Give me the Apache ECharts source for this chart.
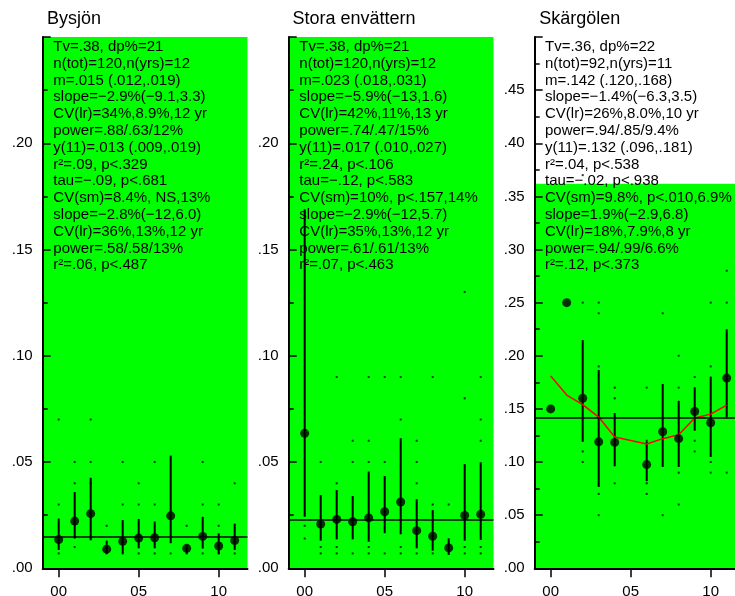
<!DOCTYPE html>
<html><head><meta charset="utf-8">
<script src="https://cdn.jsdelivr.net/npm/echarts@6/dist/echarts.min.js"></script>
<style>html,body{margin:0;padding:0;background:#fff}#c{width:735px;height:596px}</style>
</head><body><div id="c"></div>
<script>
// ---------- data ----------
const years = [0,1,2,3,4,5,6,7,8,9,10,11];
const xTickValues = [0,5,10];
const xTickLabels = ['00','05','10'];
const yTickLabels = ['.00','.05','.10','.15','.20','.25','.30','.35','.40','.45','.50'];

const titles = ['Bysjön','Stora envättern','Skärgölen'];
const yMax = [0.25, 0.25, 0.5];
const meanLevel = [0.015, 0.023, 0.142];

const stats1 = ['Tv=.38, dp%=21','n(tot)=120,n(yrs)=12','m=.015 (.012,.019)','slope=\u22122.9%(\u22129.1,3.3)','CV(lr)=34%,8.9%,12 yr','power=.88/.63/12%','y(11)=.013 (.009,.019)','r\u00b2=.09, p<.329','tau=\u2212.09, p<.681','CV(sm)=8.4%, NS,13%','slope=\u22122.8%(\u221212,6.0)','CV(lr)=36%,13%,12 yr','power=.58/.58/13%','r\u00b2=.06, p<.487'];
const stats2 = ['Tv=.38, dp%=21','n(tot)=120,n(yrs)=12','m=.023 (.018,.031)','slope=\u22125.9%(\u221213,1.6)','CV(lr)=42%,11%,13 yr','power=.74/.47/15%','y(11)=.017 (.010,.027)','r\u00b2=.24, p<.106','tau=\u2212.12, p<.583','CV(sm)=10%, p<.157,14%','slope=\u22122.9%(\u221212,5.7)','CV(lr)=35%,13%,12 yr','power=.61/.61/13%','r\u00b2=.07, p<.463'];
const stats3 = ['Tv=.36, dp%=22','n(tot)=92,n(yrs)=11','m=.142 (.120,.168)','slope=\u22121.4%(\u22126.3,3.5)','CV(lr)=26%,8.0%,10 yr','power=.94/.85/9.4%','y(11)=.132 (.096,.181)','r\u00b2=.04, p<.538','tau=\u2212.02, p<.938','CV(sm)=9.8%, p<.010,6.9%','slope=1.9%(\u22122.9,6.8)','CV(lr)=18%,7.9%,8 yr','power=.94/.99/6.6%','r\u00b2=.12, p<.373'];

// Bysjön
const means1 = [0.0135,0.0222,0.0257,0.0090,0.0127,0.0142,0.0144,0.0247,0.0094,0.0150,0.0105,0.0131];
const lo1    = [0.0086,0.0140,0.0134,0.0070,0.0070,0.0094,0.0094,0.0118,0.0070,0.0093,0.0067,0.0086];
const hi1    = [0.0234,0.0359,0.0426,0.0130,0.0227,0.0232,0.0220,0.0530,0.0110,0.0242,0.0165,0.0210];
const obsYear1 = [0,0,0, 1,1,1, 2,2,2,2, 3,3, 4,4,4, 5,5,5, 6,6,6, 7, 8,8, 9,9,9, 10,10,10, 11,11];
const obsVal1  = [0.07,0.03,0.007, 0.05,0.04,0.01, 0.07,0.05,0.04,0.0136, 0.02,0.007, 0.05,0.03,0.007, 0.04,0.03,0.007, 0.05,0.03,0.007, 0.007, 0.02,0.007, 0.05,0.03,0.007, 0.03,0.02,0.007, 0.04,0.007];

// Stora envättern
const means2 = [0.0635,0.0208,0.0230,0.0219,0.0237,0.0266,0.0312,0.0177,0.0151,0.0096,0.0249,0.0254];
const lo2    = [0.0242,0.0130,0.0136,0.0136,0.0125,0.0165,0.0160,0.0094,0.0083,0.0063,0.0130,0.0133];
const hi2    = [0.1690,0.0345,0.0368,0.0340,0.0455,0.0434,0.0612,0.0325,0.0274,0.0141,0.0490,0.0499];
const obsYear2 = [0,0, 1,1,1, 2,2,2,2, 3,3,3, 4,4,4,4,4, 5,5,5, 6,6,6,6, 7,7,7,7, 8,8,8, 9, 10,10,10,10, 11,11,11,11,11];
const obsVal2  = [0.02,0.014, 0.05,0.01,0.007, 0.09,0.04,0.01,0.007, 0.06,0.05,0.007, 0.09,0.06,0.05,0.01,0.007, 0.09,0.05,0.007, 0.09,0.07,0.01,0.007, 0.06,0.05,0.04,0.007, 0.09,0.03,0.007, 0.03, 0.13,0.08,0.01,0.007, 0.09,0.07,0.06,0.01,0.007];

// Skärgölen
const means3  = [0.150,0.250,0.160,0.119,0.1185,null,0.0976,0.1285,0.122,0.1476,0.137,0.179];
const lo3     = [null,null,0.119,0.0766,0.096,null,0.082,0.0954,0.0954,0.1295,0.1048,0.142];
const hi3     = [null,null,0.2148,0.1867,0.146,null,0.119,0.1735,0.1576,0.1704,0.1804,0.2249];
const smooth3 = [0.181,0.163,0.154,0.1423,0.1235,null,0.117,0.122,0.1257,0.1414,0.1451,0.1536];
const obsYear3 = [2,2,2,2, 3,3,3,3,3, 4,4,4, 6,6,6,6, 7,7, 8,8,8,8, 9,9,9, 10,10,10,10, 11,11,11];
const obsVal3  = [0.37,0.25,0.11,0.10, 0.25,0.24,0.19,0.07,0.05, 0.17,0.16,0.08, 0.17,0.12,0.08,0.07, 0.24,0.05, 0.20,0.17,0.09,0.06, 0.18,0.12,0.11, 0.25,0.19,0.10,0.09, 0.28,0.25,0.09];
const greenTop3 = 0.362;

// ---------- layout ----------
const FONT = '"Liberation Sans", Arial, Helvetica, sans-serif';
const GREEN = '#00ff00';
const gridLeft = [42.7, 288.7, 534.7];
const gridTop = 37, gridH = 531.3, gridW = 204.8;
const titleLeft = [47, 292.5, 539.3];
const statsLeft = [53.3, 299.3, 545];

const panels = [
  {means:means1, lo:lo1, hi:hi1, oy:obsYear1, ov:obsVal1, stats:stats1},
  {means:means2, lo:lo2, hi:hi2, oy:obsYear2, ov:obsVal2, stats:stats2},
  {means:means3, lo:lo3, hi:hi3, oy:obsYear3, ov:obsVal3, stats:stats3}
];

const grid = [], xAxis = [], yAxis = [], series = [], title = [];
panels.forEach((p, i) => {
  grid.push({left:gridLeft[i], top:gridTop, width:gridW, height:gridH, containLabel:false,
    outerBoundsMode:'none', show: i < 2, backgroundColor: GREEN, borderWidth:0});
  xAxis.push({gridIndex:i, type:'value', min:-1, max:11.8, z:5,
    axisLine:{show:true, onZero:false, lineStyle:{color:'#000', width:2}},
    axisTick:{show:true, customValues:xTickValues, length:9, lineStyle:{color:'#000', width:1.5}},
    axisLabel:{show:true, customValues:xTickValues, margin:16, fontSize:15, color:'#000', fontFamily:FONT,
      formatter: v => xTickLabels[xTickValues.indexOf(v)]},
    splitLine:{show:false}});
  yAxis.push({gridIndex:i, type:'value', min:0, max:yMax[i], interval:0.05, z:5,
    axisLine:{show:true, onZero:false, lineStyle:{color:'#000', width:2}},
    axisTick:{show:true, inside:true, length:8, lineStyle:{color:'#000', width:1.5}},
    minorTick:{show:true, splitNumber:2, length:5, lineStyle:{color:'#000', width:1.5}},
    splitLine:{show:false}, minorSplitLine:{show:false},
    axisLabel:{showMaxLabel:false, margin:10, fontSize:15, color:'#000', fontFamily:FONT,
      formatter: v => yTickLabels[Math.round(v/0.05)]}});
  title.push({text:titles[i], left:titleLeft[i], top:10.5, padding:0,
    textStyle:{fontSize:18, fontWeight:'normal', color:'#000', fontFamily:FONT}});
  title.push({text:p.stats.join('\n'), left:statsLeft[i], top:38.5, padding:0,
    textStyle:{fontSize:15, fontWeight:'normal', color:'#000', fontFamily:FONT, lineHeight:16.8}});

  // observations
  series.push({type:'scatter', xAxisIndex:i, yAxisIndex:i, symbol:'rect', symbolSize:2, silent:true, z:3,
    itemStyle:{color:'#000'}, data: p.oy.map((y,k)=>[y, p.ov[k]])});
  // error bars
  series.push({type:'custom', xAxisIndex:i, yAxisIndex:i, silent:true, z:3,
    data: years.map((y,k)=> p.lo[k]==null ? null : [y, p.lo[k], p.hi[k]]).filter(d=>d),
    encode:{x:0, y:[1,2]},
    renderItem:(params, api) => {
      const a = api.coord([api.value(0), api.value(1)]);
      const b = api.coord([api.value(0), api.value(2)]);
      return {type:'line', shape:{x1:a[0], y1:a[1], x2:b[0], y2:b[1]}, style:{stroke:'#000', lineWidth:2}};
    }});
  // means + mean line
  const meanSeries = {type:'scatter', xAxisIndex:i, yAxisIndex:i, symbol:'circle', symbolSize:9, silent:true, z:4,
    itemStyle:{color:'#000'},
    data: years.map((y,k)=> p.means[k]==null ? null : [y, p.means[k]]).filter(d=>d),
    markLine:{silent:true, symbol:'none', precision:6, label:{show:false}, animation:false,
      lineStyle:{color:'#000', width:1.5, type:'solid'}, data:[{yAxis:meanLevel[i]}]}};
  if (i === 2) {
    meanSeries.markArea = {silent:true, itemStyle:{color:GREEN}, data:[[{yAxis:0},{yAxis:greenTop3}]]};
  }
  series.push(meanSeries);
});

// smoothed line, panel 3
series.push({type:'line', xAxisIndex:2, yAxisIndex:2, symbol:'none', connectNulls:true, silent:true, z:3,
  lineStyle:{color:'#ff0000', width:1.5}, data: years.map((y,k)=>[y, smooth3[k]])});

const chart = echarts.init(document.getElementById('c'), null, {renderer:'canvas'});
chart.setOption({animation:false, backgroundColor:'#fff', title, grid, xAxis, yAxis, series});
</script></body></html>
